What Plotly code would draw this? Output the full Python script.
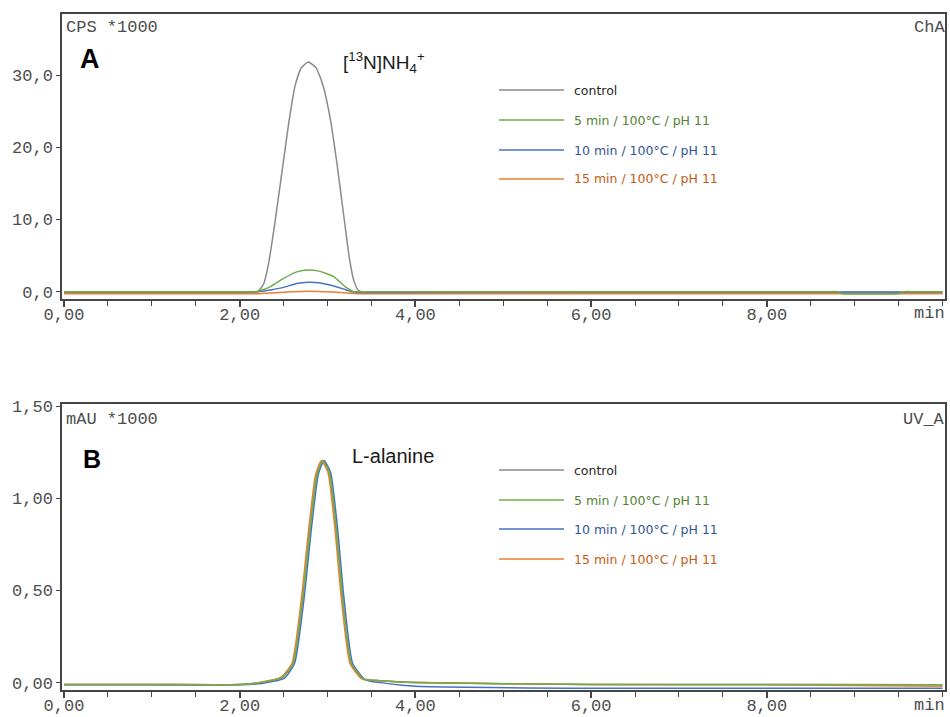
import plotly.graph_objects as go

# ---------------- data ----------------
series_names = ["control", "5 min / 100°C / pH 11", "10 min / 100°C / pH 11", "15 min / 100°C / pH 11"]
line_colors = ["#8a8a8a", "#70ad47", "#4472c4", "#ed7d31"]
text_colors = ["#262626", "#548235", "#2f5597", "#c55a11"]

# Panel A : radio channel, CPS *1000
a_ctrl_t = [0.0, 1.0, 2.0, 2.2, 2.27, 2.33, 2.40, 2.48, 2.56, 2.63, 2.70, 2.78, 2.87, 2.95, 3.03, 3.11, 3.19, 3.25, 3.30, 3.35, 3.42, 5.0, 8.0, 10.0]
a_ctrl_v = [-0.1, -0.1, -0.1, 0.0, 1.0, 4.0, 9.5, 16.5, 23.5, 28.5, 31.0, 31.8, 31.0, 28.5, 24.0, 17.5, 10.0, 4.5, 1.5, 0.2, -0.1, -0.1, -0.1, -0.1]

a_5_t = [0.0, 1.0, 2.0, 2.19, 2.35, 2.5, 2.65, 2.78, 2.9, 3.07, 3.2, 3.29, 3.4, 5.0, 7.0, 8.7, 8.8, 8.85, 9.5, 9.55, 9.7, 10.0]
a_5_v = [0.0, 0.0, 0.0, 0.0, 0.7, 1.85, 2.75, 3.0, 2.85, 2.1, 0.7, 0.05, 0.0, 0.0, 0.0, 0.0, 0.0, -0.25, -0.25, 0.0, 0.0, 0.0]

a_10_t = [0.0, 1.0, 2.0, 2.22, 2.35, 2.5, 2.65, 2.78, 2.9, 3.07, 3.2, 3.3, 3.4, 3.8, 6.0, 8.8, 10.0]
a_10_v = [0.0, 0.0, 0.0, 0.0, 0.25, 0.6, 1.15, 1.3, 1.25, 0.8, 0.3, -0.05, -0.1, -0.1, -0.05, -0.05, -0.05]

a_15_t = [0.0, 1.0, 2.0, 2.2, 2.4, 2.6, 2.78, 2.95, 3.15, 3.35, 3.5, 6.0, 8.8, 10.0]
a_15_v = [-0.28, -0.28, -0.28, -0.28, -0.15, -0.02, 0.05, 0.0, -0.12, -0.28, -0.28, -0.28, -0.3, -0.3]

# Panel B : UV channel, mAU *1000
b_ctrl_t = [0.0, 1.0, 2.0, 2.23, 2.49, 2.61, 2.72, 2.80, 2.88, 2.945, 3.02, 3.10, 3.17, 3.27, 3.41, 3.6, 4.0, 6.0, 8.0, 10.0]
b_ctrl_v = [-0.01, -0.01, -0.01, 0.0, 0.03, 0.105, 0.466, 0.83, 1.13, 1.204, 1.14, 0.83, 0.466, 0.105, 0.02, 0.01, 0.0, -0.01, -0.01, -0.012]

b_5_t = [0.0, 1.0, 2.0, 2.23, 2.49, 2.61, 2.72, 2.80, 2.88, 2.945, 3.02, 3.10, 3.17, 3.27, 3.41, 3.6, 4.0, 6.0, 8.0, 10.0]
b_5_v = [-0.01, -0.01, -0.01, 0.0, 0.03, 0.105, 0.466, 0.83, 1.13, 1.204, 1.14, 0.83, 0.466, 0.105, 0.02, 0.01, 0.0, -0.01, -0.01, -0.012]

b_10_t = [0.0, 1.0, 2.0, 2.25, 2.51, 2.625, 2.735, 2.815, 2.895, 2.96, 3.035, 3.115, 3.185, 3.285, 3.43, 3.6, 4.0, 6.0, 8.0, 10.0]
b_10_v = [-0.012, -0.012, -0.012, -0.005, 0.025, 0.105, 0.466, 0.83, 1.13, 1.204, 1.14, 0.83, 0.466, 0.105, 0.015, 0.0, -0.02, -0.03, -0.03, -0.03]

b_15_t = [0.0, 1.0, 2.0, 2.21, 2.47, 2.595, 2.705, 2.785, 2.865, 2.93, 3.005, 3.085, 3.155, 3.255, 3.39, 3.6, 4.0, 6.0, 8.0, 10.0]
b_15_v = [-0.01, -0.01, -0.01, 0.0, 0.03, 0.105, 0.466, 0.83, 1.13, 1.204, 1.14, 0.83, 0.466, 0.105, 0.02, 0.01, 0.0, -0.01, -0.012, -0.02]

x_tick_vals = [0, 2, 4, 6, 8]
x_tick_text = ["0,00", "2,00", "4,00", "6,00", "8,00"]
x_unit = "min"
a_tick_vals = [0, 10, 20, 30]
a_tick_text = ["0,0", "10,0", "20,0", "30,0"]
b_tick_vals = [0, 0.5, 1.0, 1.5]
b_tick_text = ["0,00", "0,50", "1,00", "1,50"]

# ---------------- figure ----------------
W, H = 950, 717
ML, MR, MT, MB = 62, 5, 14, 27
PW, PH = W - ML - MR, H - MT - MB


def px(x):
    return (x - ML) / PW


def py(y):
    return (H - MB - y) / PH


fig = go.Figure()

a_sets = [(a_ctrl_t, a_ctrl_v, 0), (a_15_t, a_15_v, 3), (a_10_t, a_10_v, 2), (a_5_t, a_5_v, 1)]
for t, v, i in a_sets:
    fig.add_trace(go.Scatter(x=t, y=v, mode="lines", name=series_names[i],
                             line=dict(color=line_colors[i], width=1.5, shape="spline", smoothing=0.5),
                             xaxis="x", yaxis="y", showlegend=False))

b_sets = [(b_ctrl_t, b_ctrl_v, 0), (b_10_t, b_10_v, 2), (b_15_t, b_15_v, 3), (b_5_t, b_5_v, 1)]
for t, v, i in b_sets:
    fig.add_trace(go.Scatter(x=t, y=v, mode="lines", name=series_names[i],
                             line=dict(color=line_colors[i], width=1.5, shape="spline", smoothing=0.5),
                             xaxis="x2", yaxis="y2", showlegend=False))

tick_font = dict(family="Liberation Mono", size=17, color="#4d4d4d")
frame = "#454545"
xr = [(ML - 64) / 87.85, (W - MR - 64) / 87.85]

common_x = dict(range=xr, showline=True, linecolor=frame, linewidth=1.5, mirror=True,
                tickmode="array", tickvals=x_tick_vals, ticktext=x_tick_text,
                ticks="outside", ticklen=6, tickwidth=2, tickcolor=frame,
                minor=dict(dtick=0.5, tick0=0, ticks="outside", ticklen=5, tickwidth=1.2, tickcolor=frame),
                showgrid=False, zeroline=False, tickfont=tick_font, fixedrange=True,
                ticklabelstandoff=-7, automargin=False)
common_y = dict(showline=True, linecolor=frame, linewidth=1.5, mirror=True,
                tickmode="array", ticks="outside", ticklen=4, tickwidth=1, tickcolor=frame,
                showgrid=False, zeroline=False, tickfont=tick_font, fixedrange=True,
                automargin=False)

yA0 = py(299)
yB1 = py(404)

fig.update_layout(
    width=W, height=H,
    margin=dict(l=ML, r=MR, t=MT, b=MB, autoexpand=False),
    paper_bgcolor="white", plot_bgcolor="white",
    xaxis=dict(common_x, anchor="y", domain=[0, 1]),
    yaxis=dict(common_y, domain=[yA0, 1], range=[-1.01, 38.46], tickvals=a_tick_vals, ticktext=a_tick_text),
    xaxis2=dict(common_x, anchor="y2", domain=[0, 1]),
    yaxis2=dict(common_y, domain=[0, yB1], range=[-0.040, 1.511], tickvals=b_tick_vals, ticktext=b_tick_text),
    showlegend=False,
)

mono = dict(family="Liberation Mono", size=17, color="#4d4d4d")
ann = []


def add_text(text, x, y, font, xanchor="left"):
    ann.append(dict(text=text, x=px(x), y=py(y), xref="paper", yref="paper",
                    xanchor=xanchor, yanchor="middle", showarrow=False, font=font))


add_text("CPS *1000", 64, 27, mono)
add_text("ChA", 947, 27, mono, xanchor="right")
add_text("<b>A</b>", 78, 59, dict(family="Liberation Sans", size=27, color="black"))
add_text("[<sup>13</sup>N]NH<sub>4</sub><sup>+</sup>", 341, 62, dict(family="Liberation Sans", size=19, color="#1a1a1a"))
add_text(x_unit, 947, 313, mono, xanchor="right")

add_text("mAU *1000", 64, 419, mono)
add_text("UV_A", 947, 419, mono, xanchor="right")
add_text("<b>B</b>", 81, 459, dict(family="Liberation Sans", size=25, color="black"))
add_text("L-alanine", 350, 456, dict(family="Liberation Sans", size=20, color="#1a1a1a"))
add_text(x_unit, 947, 705, mono, xanchor="right")

shapes = []
legend_rows = [[90, 120, 150, 179], [470, 500, 529, 559]]
for rows in legend_rows:
    for i, yy in enumerate(rows):
        shapes.append(dict(type="line", xref="paper", yref="paper",
                           x0=px(499), x1=px(564), y0=py(yy), y1=py(yy),
                           line=dict(color=line_colors[i], width=1.5)))
        add_text(series_names[i], 572, yy, dict(family="DejaVu Sans", size=12.5, color=text_colors[i]))

fig.update_layout(annotations=ann, shapes=shapes)

fig.write_html("out.html")
